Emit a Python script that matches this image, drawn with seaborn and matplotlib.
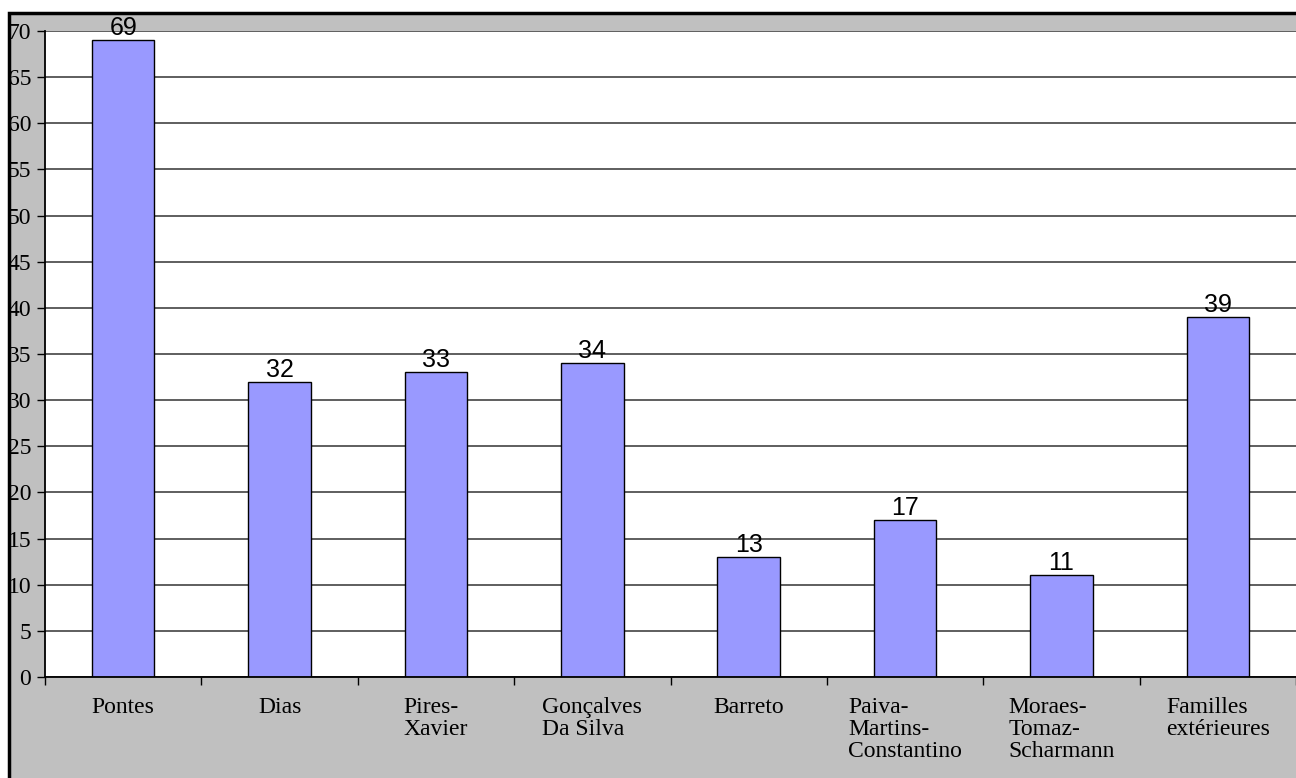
import matplotlib
matplotlib.use("Agg")
import matplotlib.pyplot as plt
import matplotlib.patches as patches
import seaborn as sns
import pandas as pd

familles = ["Pontes", "Dias", "Pires-\nXavier", "Gonçalves\nDa Silva", "Barreto",
            "Paiva-\nMartins-\nConstantino", "Moraes-\nTomaz-\nScharmann",
            "Familles\nextérieures"]
effectifs = [69, 32, 33, 34, 13, 17, 11, 39]

df = pd.DataFrame({"famille": familles, "n": effectifs})

sns.set_style("white")
plt.rcParams["text.color"] = "black"
plt.rcParams["xtick.color"] = "black"
plt.rcParams["ytick.color"] = "black"

fig = plt.figure(figsize=(12.96, 7.78), dpi=100)
fig.patch.set_facecolor("white")

# gray frame behind the plot area
bg = patches.Rectangle((9 / 1296, -0.05), 1.1, 1 - 13 / 778 + 0.05,
                       transform=fig.transFigure, facecolor="#C0C0C0",
                       edgecolor="black", linewidth=2.5, zorder=-1)
fig.add_artist(bg)

ax = fig.add_axes([45 / 1296, 1 - 677 / 778, 1 - 45 / 1296, (677 - 31) / 778])
ax.set_facecolor("white")

sns.barplot(ax=ax, data=df, x="famille", y="n", color="#9999FF",
            saturation=1, edgecolor="black", linewidth=1, width=0.4)

ax.set_ylim(0, 70)
ax.set_xlim(-0.5, 7.5)
ax.set_yticks(range(0, 71, 5))
ax.yaxis.grid(True, color="#333333", linewidth=1.1)
ax.set_axisbelow(True)

for s in ["top", "right"]:
    ax.spines[s].set_visible(False)
for s in ["left", "bottom"]:
    ax.spines[s].set_color("black")
    ax.spines[s].set_linewidth(1.3)

ax.set_xlabel("")
ax.set_ylabel("")

# category labels centered, lines left-aligned; tick marks between categories
ax.set_xticks(range(len(familles)))
ax.set_xticklabels(familles, fontfamily="Liberation Serif", fontsize=17,
                   ha="center", multialignment="left", linespacing=1.05,
                   color="black")
ax.tick_params(axis="x", which="major", length=0, pad=14.5)
ax.set_xticks([i - 0.5 for i in range(len(familles) + 1)], minor=True)
ax.tick_params(axis="x", which="minor", length=6, width=1, color="black",
               direction="out", bottom=True)
ax.tick_params(axis="y", length=6, width=1, color="black", direction="out",
               left=True, pad=4, labelsize=17, labelcolor="black")
for t in ax.get_yticklabels():
    t.set_fontfamily("Liberation Serif")

ax.bar_label(ax.containers[0], labels=[str(v) for v in effectifs], padding=0,
             fontsize=18, fontfamily="Liberation Sans", color="black")

fig.savefig("out.png", dpi=100, facecolor=fig.get_facecolor())
